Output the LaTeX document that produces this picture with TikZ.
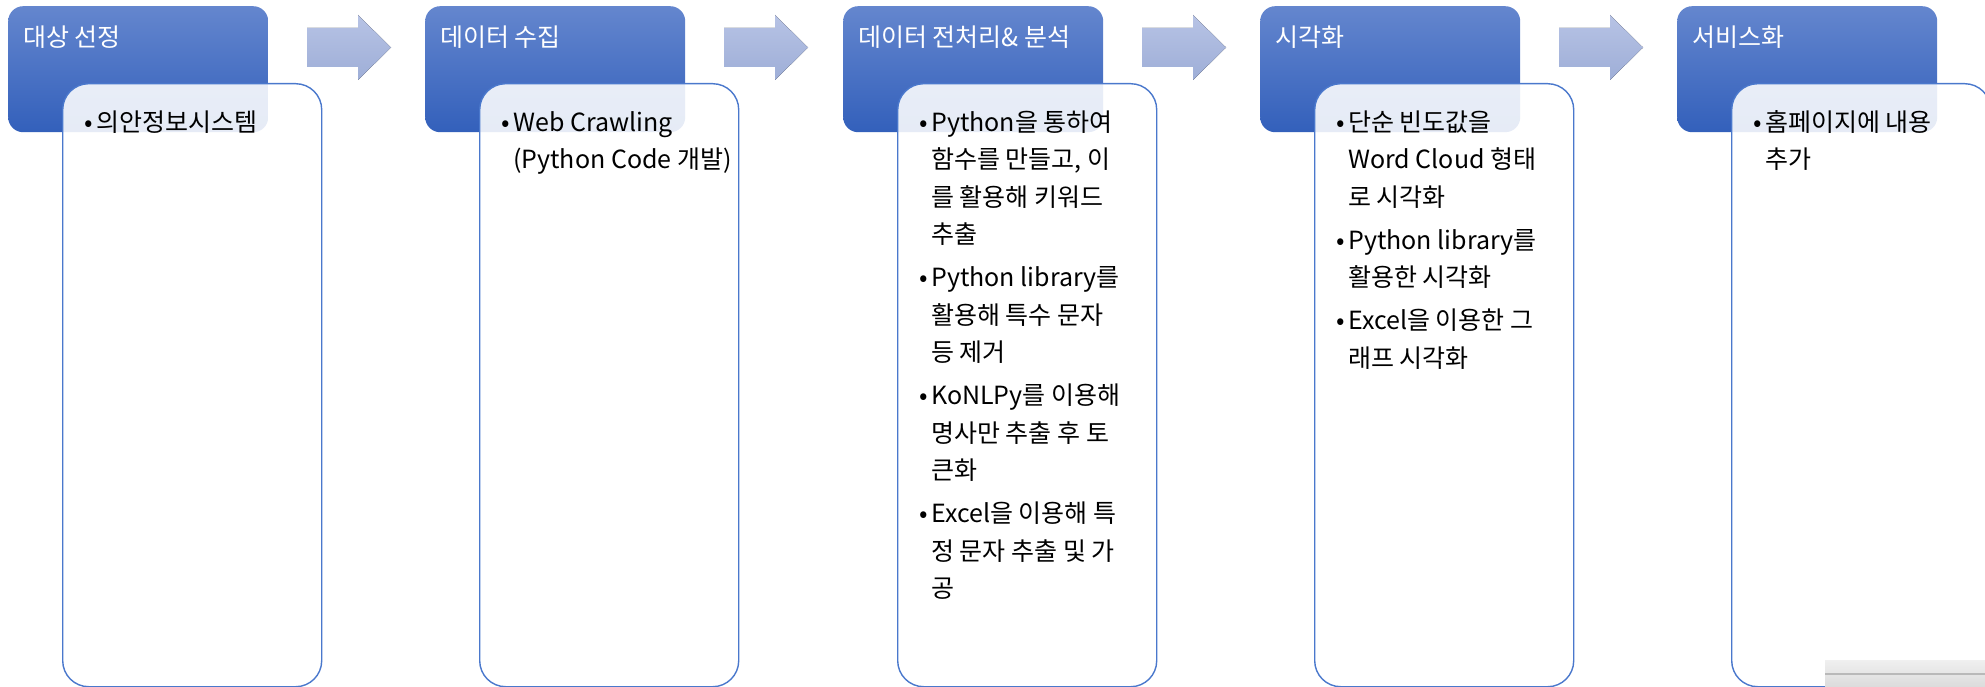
\documentclass[tikz,border=0pt]{standalone}
\usepackage{fontspec}
\setmainfont{Noto Sans CJK KR}
\usepackage{xcolor,tikz}
\usetikzlibrary{calc,positioning}
\definecolor{headtop}{HTML}{6486CE}
\definecolor{headmid}{HTML}{4170C8}
\definecolor{headbot}{HTML}{3360BB}
\definecolor{boxline}{HTML}{4A78CC}
\definecolor{arrtop}{HTML}{B7C3E5}
\definecolor{arrbot}{HTML}{9EAED7}
\tikzset{>=stealth}
\tikzset{headbox/.style={rounded corners=15bp, top color=headtop, middle color=headmid, bottom color=headbot, minimum width=260bp, minimum height=126bp, inner sep=0pt, anchor=north west},
bodybox/.style={draw=boxline, line width=1.4bp, rounded corners=26bp, fill=white, fill opacity=0.88, minimum width=259bp, minimum height=603bp, inner sep=0pt, anchor=north west},
headtext/.style={text=white, anchor=base west, inner sep=0pt, font=\fontsize{25bp}{30bp}\selectfont},
bodytext/.style={text=black, anchor=north west, inner sep=0pt, align=left, font=\fontsize{25bp}{37.5bp}\selectfont},
flowarrow/.style={top color=arrtop, bottom color=arrbot, draw=none}}
\newcommand{\bul}{\rule{0pt}{26bp}\llap{•\kern3bp}}

\begin{document}
\begin{tikzpicture}[x=1bp,y=-1bp]
\useasboundingbox (0,0) rectangle (1985,687);
%%%%
\node[headbox] (h1) at (8,6) {};
\node[bodybox] (b1) at (62,83) {};
\node[headtext] (t1) at (23,47) {대상 선정};
\node[bodytext] (l1) at (96,105) {\bul 의안정보시스템};
\fill[flowarrow] (307,28) -- (358,28) -- (358,15) -- (391,47.5) -- (358,80) -- (358,67) -- (307,67) -- cycle;
%%%%
\node[headbox] (h2) at (425,6) {};
\node[bodybox] (b2) at (479,83) {};
\node[headtext] (t2) at (440,47) {데이터 수집};
\node[bodytext] (l2) at (513,105) {\bul Web Crawling\\(Python Code 개발)};
\fill[flowarrow] (724,28) -- (775,28) -- (775,15) -- (808,47.5) -- (775,80) -- (775,67) -- (724,67) -- cycle;
%%%%
\node[headbox] (h3) at (843,6) {};
\node[bodybox] (b3) at (897,83) {};
\node[headtext] (t3) at (858,47) {데이터 전처리\& 분석};
\node[bodytext] (l3) at (931,105) {\bul Python을 통하여\\함수를 만들고, 이\\를 활용해 키워드\\추출\\[5.5bp]
\bul Python library를\\활용해 특수 문자\\등 제거\\[5.5bp]
\bul KoNLPy를 이용해\\명사만 추출 후 토\\큰화\\[5.5bp]
\bul Excel을 이용해 특\\정 문자 추출 및 가\\공};
\fill[flowarrow] (1142,28) -- (1193,28) -- (1193,15) -- (1226,47.5) -- (1193,80) -- (1193,67) -- (1142,67) -- cycle;
%%%%
\node[headbox] (h4) at (1260,6) {};
\node[bodybox] (b4) at (1314,83) {};
\node[headtext] (t4) at (1275,47) {시각화};
\node[bodytext] (l4) at (1348,105) {\bul 단순 빈도값을\\Word Cloud 형태\\로 시각화\\[5.5bp]
\bul Python library를\\활용한 시각화\\[5.5bp]
\bul Excel을 이용한 그\\래프 시각화};
\fill[flowarrow] (1559,28) -- (1610,28) -- (1610,15) -- (1643,47.5) -- (1610,80) -- (1610,67) -- (1559,67) -- cycle;
%%%%
\node[headbox] (h5) at (1677,6) {};
\node[bodybox] (b5) at (1731,83) {};
\node[headtext] (t5) at (1692,47) {서비스화};
\node[bodytext] (l5) at (1765,105) {\bul 홈페이지에 내용\\추가};
%%%%
\fill[top color=gray!12, bottom color=gray!28] (1825,660) rectangle (1985,687);
\draw[gray!55, line width=1.5bp] (1825,674) -- (1985,674);
\end{tikzpicture}
\end{document}
